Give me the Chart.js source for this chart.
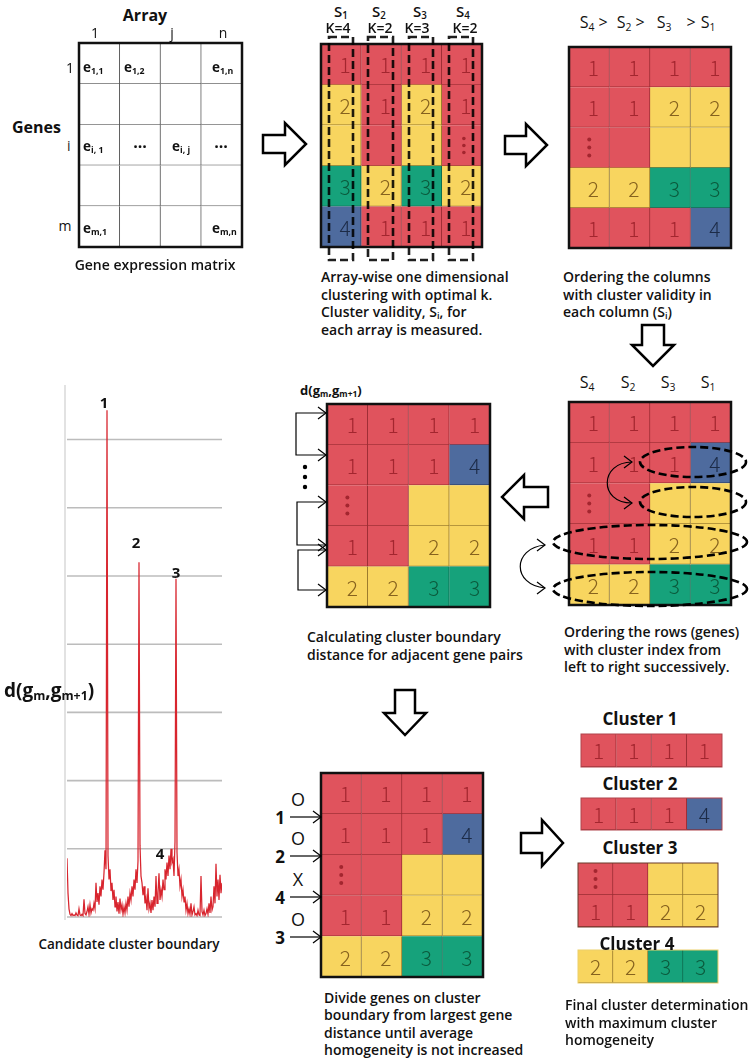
<!DOCTYPE html>
<html><head><meta charset="utf-8">
<script src="https://cdn.jsdelivr.net/npm/chart.js@4/dist/chart.umd.min.js"></script>
<style>
body{margin:0;background:#fff;}
#root{position:relative;width:750px;height:1061px;overflow:hidden;font-family:"Open Sans","Noto Sans",sans-serif;color:#111;background:#fff;}
.t{position:absolute;white-space:nowrap;line-height:1;color:#111;}
.cap{position:absolute;font-weight:600;font-size:14px;line-height:17.5px;white-space:nowrap;color:#111;}
.cap sub,.t sub{font-size:0.65em;vertical-align:-0.25em;line-height:0;}
canvas{position:absolute;}
svg{position:absolute;left:0;top:0;pointer-events:none;}
</style></head><body><div id="root"></div>
<script>
// ---------- data ----------
// distance between adjacent genes d(g_m, g_m+1), one value per gene pair
const distance = [
 0.86,0.35,0.12,0.04,0.02,0.05,0.02,0.03,0.02,0.06,
 0.03,0.02,0.12,0.03,0.02,0.04,0.02,0.26,0.05,0.03,
 0.08,0.15,0.04,0.18,0.06,0.12,0.10,0.20,0.12,0.50,
 0.22,0.35,0.18,0.45,0.30,0.55,0.40,0.65,0.98,0.70,
 7.43,0.90,0.55,0.70,0.38,0.50,0.25,0.40,0.15,0.30,
 0.08,0.22,0.05,0.27,0.10,0.18,0.04,0.15,0.06,0.20,
 0.10,0.30,0.15,0.35,0.25,0.45,0.30,0.55,0.40,0.70,
 0.50,0.82,5.20,1.05,0.60,0.50,0.32,0.45,0.20,0.28,
 0.10,0.42,0.12,0.20,0.06,0.25,0.10,0.30,0.15,0.60,
 0.20,0.35,0.64,0.25,0.40,0.30,0.55,0.40,0.70,0.55,
 0.80,0.60,0.90,0.70,1.00,0.80,0.85,0.60,1.10,4.96,
 0.95,0.60,0.70,0.45,0.55,0.30,0.40,0.22,0.30,0.10,
 0.20,0.05,0.12,0.04,0.20,0.03,0.08,0.15,0.03,0.05,
 0.02,0.10,0.03,0.02,0.60,0.08,0.03,0.10,0.02,0.05,
 0.12,0.04,0.20,0.06,0.30,0.10,0.15,0.45,0.20,0.78,
 0.30,0.55,0.25,0.62,0.35,0.50
];
const distanceGrid = [0,1,2,3,4,5,6,7];
const peakNames  = ['1','2','3','4'];
const peakIndex  = [37,69,109,93];
const peakLevel  = [7.53,5.47,5.03,0.91];

// cluster codes per cell: R=1 (red), Y=2 (yellow), G=3 (green), B=4 (blue), W=empty
const exprColors   = ['WWWW','WWWW','WWWW','WWWW','WWWW'];
const exprLabels   = [['','','',''],['','','',''],['','','',''],['','','',''],['','','','']];
const step1Colors  = ['RRRR','YRYR','YRYR','GYGY','BRRR'];
const step1Labels  = [['1','1','1','1'],['2','1','2','1'],['','','',':'],['3','2','3','2'],['4','1','1','1']];
const step2Colors  = ['RRRR','RRYY','RRYY','YYGG','RRRB'];
const step2Labels  = [['1','1','1','1'],['1','1','2','2'],[':','','',''],['2','2','3','3'],['1','1','1','4']];
const step3Colors  = ['RRRR','RRRB','RRYY','RRYY','YYGG'];
const step3Labels  = [['1','1','1','1'],['1','1','1','4'],[':','','',''],['1','1','2','2'],['2','2','3','3']];
const cluster1Colors = ['RRRR'];        const cluster1Labels = [['1','1','1','1']];
const cluster2Colors = ['RRRB'];        const cluster2Labels = [['1','1','1','4']];
const cluster3Colors = ['RRYY','RRYY']; const cluster3Labels = [[':','','',''],['1','1','2','2']];
const cluster4Colors = ['YYGG'];        const cluster4Labels = [['2','2','3','3']];

const arrayHeads = ['S<sub>1</sub>','S<sub>2</sub>','S<sub>3</sub>','S<sub>4</sub>'];
const arrayK     = ['K=4','K=2','K=3','K=2'];
const orderedHeads = ['S<sub>4</sub>','S<sub>2</sub>','S<sub>3</sub>','S<sub>1</sub>'];

// ---------- styles ----------
const CELL = {R:'#E0535D', Y:'#F8D55F', G:'#16A27B', B:'#4E6B9E', W:'#FFFFFF'};
const EDGE = {R:'#9A2C33', Y:'#94752A', G:'#0E6A4E', B:'#26375A', W:'#555555'};
const INK  = {R:'#A3262F', Y:'#86621E', G:'#0B5A3C', B:'#1C2B47', W:'#111'};
const root = document.getElementById('root');

function txt(html, x, y, style, align){
  const d = document.createElement('div');
  d.className = 't';
  d.innerHTML = html;
  d.style.cssText += style || '';
  d.style.left = x + 'px'; d.style.top = y + 'px';
  d.style.transform = align === 'left' ? 'translate(0,-50%)' : 'translate(-50%,-50%)';
  root.appendChild(d);
}
function cap(lines, x, top, lh){
  const d = document.createElement('div');
  d.className = 'cap';
  d.innerHTML = lines.join('<br>');
  d.style.left = x + 'px'; d.style.top = top + 'px';
  if (lh) d.style.lineHeight = lh + 'px';
  root.appendChild(d);
}

function makeGrid(x, y, w, h, colors, labels, opt){
  const pad = 3;
  const cv = document.createElement('canvas');
  cv.width = w + 2*pad; cv.height = h + 2*pad;
  cv.style.left = (x - pad) + 'px'; cv.style.top = (y - pad) + 'px';
  root.appendChild(cv);
  const cols = colors[0].length;
  const datasets = [];
  for (let j = 0; j < cols; j++){
    datasets.push({
      data: colors.map(() => 1),
      backgroundColor: colors.map(r => CELL[r[j]]),
      borderColor: colors.map(r => EDGE[r[j]]),
      borderWidth: {top:0, left:0, right: j < cols-1 ? 1 : 0, bottom: 1},
      borderSkipped: false,
      categoryPercentage: 1, barPercentage: 1
    });
  }
  new Chart(cv, {
    type: 'bar',
    data: {labels: colors.map((_, i) => 'row' + (i+1)), datasets},
    options: {
      indexAxis: 'y', responsive: false, animation: false, events: [],
      layout: {padding: pad},
      plugins: {legend: {display: false}, tooltip: {enabled: false}},
      scales: {
        x: {display: false, stacked: true, min: 0, max: cols},
        y: {display: false, stacked: true}
      }
    },
    plugins: [{
      id: 'cellText',
      afterDatasetsDraw(chart){
        const ctx = chart.ctx, xs = chart.scales.x, ys = chart.scales.y;
        ctx.save();
        labels.forEach((row, i) => row.forEach((t, j) => {
          if (!t) return;
          const cx = xs.getPixelForValue(j + 0.5), cy = ys.getPixelForValue(i);
          const ink = INK[colors[i][j]];
          ctx.fillStyle = ink;
          if (t === ':'){
            const s = opt.dot || 8;
            for (let k = -1; k <= 1; k++){
              ctx.beginPath(); ctx.arc(cx + (opt.dotDx || 0), cy + k*s, opt.dotR || 2, 0, Math.PI*2); ctx.fill();
            }
          } else {
            ctx.font = '300 21px "Noto Sans CJK KR","Open Sans",sans-serif';
            ctx.textAlign = 'center'; ctx.textBaseline = 'middle';
            ctx.fillText(t, cx + (opt.dx || 0), cy + 1);
          }
        }));
        if (opt.frame){
          const a = chart.chartArea;
          ctx.lineWidth = opt.frame; ctx.strokeStyle = opt.frameColor || '#111';
          ctx.strokeRect(a.left, a.top, a.right - a.left, a.bottom - a.top);
        }
        ctx.restore();
      }
    }]
  });
}

// ---------- distance profile chart ----------
(function(){
  const cv = document.createElement('canvas');
  cv.width = 170; cv.height = 545;
  cv.style.left = '60px'; cv.style.top = '380px';
  root.appendChild(cv);
  new Chart(cv, {
    type: 'line',
    data: {datasets: [{
      data: distance.map((v, i) => ({x: i, y: v})),
      borderColor: '#D8252E', borderWidth: 1.25, pointRadius: 0, tension: 0, fill: false
    }]},
    options: {
      responsive: false, animation: false, events: [],
      layout: {padding: {left: 7, right: 8, top: 5, bottom: 8}},
      plugins: {legend: {display: false}, tooltip: {enabled: false}},
      scales: {
        x: {type: 'linear', display: false, min: 0, max: distance.length - 1},
        y: {display: false, min: 0, max: 7.8}
      }
    },
    plugins: [{
      id: 'gridAndLabels',
      beforeDatasetsDraw(chart){
        const ctx = chart.ctx, a = chart.chartArea, ys = chart.scales.y;
        ctx.save();
        ctx.strokeStyle = '#e2e2e2'; ctx.lineWidth = 2;
        ctx.beginPath(); ctx.moveTo(a.left - 2, a.top); ctx.lineTo(a.left - 2, a.bottom + 3); ctx.stroke();
        ctx.strokeStyle = '#bcbcbc'; ctx.lineWidth = 1.6;
        distanceGrid.forEach(v => {
          const y = ys.getPixelForValue(v);
          ctx.beginPath(); ctx.moveTo(a.left, y); ctx.lineTo(a.right, y); ctx.stroke();
        });
        ctx.restore();
      },
      afterDatasetsDraw(chart){
        const ctx = chart.ctx, xs = chart.scales.x, ys = chart.scales.y;
        ctx.save();
        ctx.fillStyle = '#111';
        ctx.font = 'bold 15px "Open Sans",sans-serif';
        ctx.textAlign = 'center'; ctx.textBaseline = 'middle';
        peakNames.forEach((n, k) => ctx.fillText(n, xs.getPixelForValue(peakIndex[k]), ys.getPixelForValue(peakLevel[k])));
        ctx.restore();
      }
    }]
  });
})();

// ---------- matrices ----------
makeGrid(79, 43, 163, 204, exprColors, exprLabels, {frame: 2.5});
makeGrid(321, 44, 161, 203, step1Colors, step1Labels, {frame: 2.5, dx: 4, dot: 7, dotR: 1.8, dotDx: 2});
makeGrid(569, 47, 162, 201, step2Colors, step2Labels, {frame: 2.5, dx: 4});
makeGrid(569, 402, 162, 203, step3Colors, step3Labels, {frame: 2.5, dx: 4});
makeGrid(327, 404, 163, 203, step3Colors, step3Labels, {frame: 2.5, dx: 5});
makeGrid(321, 773, 162, 204, step3Colors, step3Labels, {frame: 2.5, dx: 4});
makeGrid(581, 734, 141, 33, cluster1Colors, cluster1Labels, {frame: 1, frameColor: '#b0454c'});
makeGrid(581, 798, 141, 32, cluster2Colors, cluster2Labels, {frame: 1, frameColor: '#b0454c'});
makeGrid(578, 863, 140, 64, cluster3Colors, cluster3Labels, {frame: 1, frameColor: '#6a3a2a'});
makeGrid(578, 950, 140, 33, cluster4Colors, cluster4Labels, {frame: 1, frameColor: '#eccf6a'});

// ---------- texts ----------
txt('Array', 145, 15, 'font-weight:700;font-size:16px;');
txt('Genes', 12, 127, 'font-weight:700;font-size:16px;', 'left');
txt('1', 95, 33, 'font-size:14px;'); txt('j', 172, 33, 'font-size:14px;'); txt('n', 223, 33, 'font-size:14px;');
txt('1', 70, 68, 'font-size:14px;'); txt('i', 67, 146, 'font-size:14px;color:#222;', 'left'); txt('m', 65, 226, 'font-size:14px;');
const eStyle = 'font-weight:700;font-size:13.5px;';
txt('e<sub>1,1</sub>', 83, 68, eStyle, 'left');
txt('e<sub>1,2</sub>', 124, 68, eStyle, 'left');
txt('e<sub>1,n</sub>', 212, 68, eStyle, 'left');
txt('e<sub>i, 1</sub>', 83, 147, eStyle, 'left');
txt('···', 140, 146, 'font-weight:700;font-size:16px;');
txt('e<sub>i, j</sub>', 172, 147, eStyle, 'left');
txt('···', 221, 146, 'font-weight:700;font-size:16px;');
txt('e<sub>m,1</sub>', 83, 229, eStyle, 'left');
txt('e<sub>m,n</sub>', 212, 229, eStyle, 'left');
txt('Gene expression matrix', 155, 265, 'font-weight:600;font-size:14px;');

const sx = [341, 379, 420, 463], kx = [338, 380, 417, 465];
arrayHeads.forEach((h, i) => txt(h, sx[i], 11, 'font-weight:600;font-size:15px;'));
arrayK.forEach((h, i) => txt(h, kx[i], 28, 'font-weight:600;font-size:14px;'));
cap(['Array-wise one dimensional','clustering with optimal k.','Cluster validity, S<sub>i</sub>, for','each array is measured.'], 321, 268);

const hdr = [['S<sub>4</sub>',587],['&gt;',603],['S<sub>2</sub>',624],['&gt;',640],['S<sub>3</sub>',664],['&gt;',691],['S<sub>1</sub>',708]];
hdr.forEach(h => txt(h[0], h[1], 22, 'font-size:16px;'));
cap(['Ordering the columns','with cluster validity in','each column (S<sub>i</sub>)'], 563, 268);

const ox = [587, 628, 668, 708];
orderedHeads.forEach((h, i) => txt(h, ox[i], 382, 'font-size:16px;'));
cap(['Ordering the rows (genes)','with cluster index from','left to right successively.'], 564, 623);

txt('d(g<sub>m</sub>,g<sub>m+1</sub>)', 300, 390, 'font-weight:700;font-size:13px;', 'left');
cap(['Calculating cluster boundary','distance for adjacent gene pairs'], 307, 628);

txt('d(g<sub>m</sub>,g<sub>m+1</sub>)', 4, 690, 'font-weight:700;font-size:19px;', 'left');
txt('Candidate cluster boundary', 129, 945, 'font-weight:600;font-size:13.5px;');

const bl = [['1','O',817],['2','O',856],['4','X',897],['3','O',937]];
bl.forEach(b => { txt(b[0], 280, b[2], 'font-weight:700;font-size:17px;'); txt(b[1], 298, b[2]-18, 'font-size:18px;'); });
cap(['Divide genes on cluster','boundary from largest gene','distance until average','homogeneity is not increased'], 324, 989, 17.3);

txt('Cluster 1', 640, 718, 'font-weight:700;font-size:17px;');
txt('Cluster 2', 640, 783, 'font-weight:700;font-size:17px;');
txt('Cluster 3', 640, 847, 'font-weight:700;font-size:17px;');
txt('Cluster 4', 637, 943, 'font-weight:700;font-size:17px;');
cap(['Final cluster determination','with maximum cluster','homogeneity'], 565, 996);

// ---------- arrows, dashed marks ----------
function rArrow(x0, x1, xh, cy, sh, hh){
  return `<path d="M${x0} ${cy-sh}L${xh} ${cy-sh}L${xh} ${cy-hh}L${x1} ${cy}L${xh} ${cy+hh}L${xh} ${cy+sh}L${x0} ${cy+sh}Z" fill="#fff" stroke="#000" stroke-width="2.5" stroke-linejoin="miter"/>`;
}
function dArrow(cx, y0, y1, yh, sw, hw){
  return `<path d="M${cx-sw} ${y0}L${cx+sw} ${y0}L${cx+sw} ${yh}L${cx+hw} ${yh}L${cx} ${y1}L${cx-hw} ${yh}L${cx-sw} ${yh}Z" fill="#fff" stroke="#000" stroke-width="2.5"/>`;
}
function chev(x, y){ return `<path d="M${x-8} ${y-6}L${x} ${y}L${x-8} ${y+6}" fill="none" stroke="#000" stroke-width="1.2"/>`; }
function hLine(x0, x1, y){ return `<path d="M${x0} ${y}L${x1} ${y}" stroke="#000" stroke-width="1.2"/>` + chev(x1, y); }
function bracket(x, y0, y1, xe){
  return `<path d="M${xe} ${y0}L${x} ${y0}L${x} ${y1}L${xe} ${y1}" fill="none" stroke="#000" stroke-width="1.2"/>` + chev(xe, y0) + chev(xe, y1);
}
let s = '';
s += rArrow(263, 306, 285, 144, 9, 21);
s += rArrow(505, 547, 526, 145, 9, 21);
s += dArrow(653, 325, 366, 345, 11, 21);
s += `<path d="M548 487L524 487L524 475L502 497L524 519L524 507L548 507Z" fill="#fff" stroke="#000" stroke-width="2.5"/>`;
s += dArrow(405, 690, 735, 713, 10, 21);
s += rArrow(521, 563, 542, 843, 10, 23);
[[329,24],[368,25],[409,24],[449,24]].forEach(r => {
  s += `<rect x="${r[0]}" y="37" width="${r[1]}" height="223" fill="none" stroke="#000" stroke-opacity="0.88" stroke-width="2.6" stroke-dasharray="8 4"/>`;
});
[[693,462,53,15],[693,502,53,15],[650,542,97,17],[650,589,97,17]].forEach(e => {
  s += `<ellipse cx="${e[0]}" cy="${e[1]}" rx="${e[2]}" ry="${e[3]}" fill="none" stroke="#000" stroke-width="2.6" stroke-dasharray="8 4"/>`;
});
s += `<path d="M632 462C600 462 598 503 632 503" fill="none" stroke="#000" stroke-width="1.2"/>` + chev(632, 462) + chev(632, 503);
s += `<path d="M545 545C512 548 512 585 545 588" fill="none" stroke="#000" stroke-width="1.2"/>` + chev(545, 545) + chev(545, 588);
s += bracket(296, 413, 455, 326);
s += bracket(297, 502, 545, 326);
s += bracket(298, 550, 590, 326);
[467, 477, 487].forEach(y => { s += `<circle cx="305" cy="${y}" r="2.2" fill="#000"/>`; });
[817, 856, 897, 937].forEach(y => { s += hLine(290, 321, y); });
const svg = document.createElementNS('http://www.w3.org/2000/svg', 'svg');
svg.setAttribute('width', 750); svg.setAttribute('height', 1061);
svg.innerHTML = s;
root.appendChild(svg);
</script></body></html>
